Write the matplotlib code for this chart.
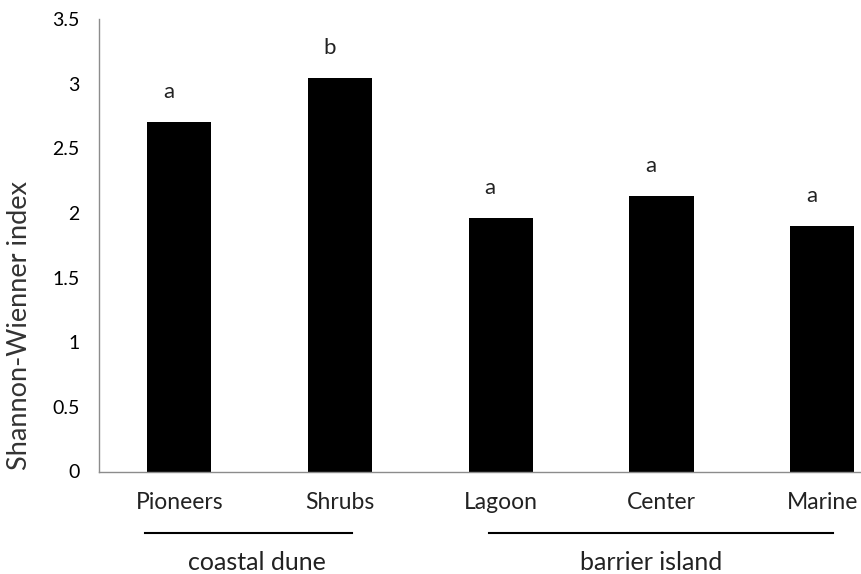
import numpy as np
import matplotlib.pyplot as plt
import matplotlib.transforms as mtransforms

plt.rcParams['font.family'] = ['Lato', 'DejaVu Sans']

sites = ['Pioneers', 'Shrubs', 'Lagoon', 'Center', 'Marine']
shannon = [2.70, 3.04, 1.96, 2.13, 1.90]
letters = ['a', 'b', 'a', 'a', 'a']
groups = ['coastal dune', 'barrier island']

fig = plt.figure(figsize=(8.61, 5.74), dpi=100)
# axes runs past the right edge like the original (cropped) chart
ax = fig.add_axes([99/861, 1 - 471.5/574, 803.5/861, 452.5/574])

x = np.arange(len(sites))
ax.bar(x, shannon, width=0.4, color='black')

for i, (v, l) in enumerate(zip(shannon, letters)):
    ax.annotate(l, (x[i] - 0.065, v), xytext=(0, 30), textcoords='offset pixels',
                ha='center', va='center', fontsize=16, color='#222222')

ax.set_xlim(-0.5, 4.5)
ax.set_ylim(0, 3.5)
ax.set_yticks(np.arange(0, 3.51, 0.5))
ax.set_yticklabels(['0', '0.5', '1', '1.5', '2', '2.5', '3', '3.5'])
ax.set_xticks(x)
ax.set_xticklabels(sites)
ax.tick_params(axis='y', length=0, pad=14, labelsize=14, labelcolor='black')
ax.tick_params(axis='x', length=0, pad=15, labelsize=16.5, labelcolor='#222222')
for s in ['top', 'right']:
    ax.spines[s].set_visible(False)
for s in ['left', 'bottom']:
    ax.spines[s].set_color('#8c8c8c')
    ax.spines[s].set_linewidth(1.0)

# group brackets under the tick labels
trans = mtransforms.blended_transform_factory(ax.transData, ax.transAxes)
spans = [(-0.214, 1.074), (1.927, 4.067)]
label_x = [0.483, 2.935]
for g, (a, b), lx in zip(groups, spans, label_x):
    ax.plot([a, b], [-0.136, -0.136], color='black', lw=1.5,
            transform=trans, clip_on=False)
    ax.text(lx, -0.2, g, transform=trans, ha='center', va='center',
            fontsize=18, color='#222222')

fig.text(20/861, 1 - 326/574, 'Shannon-Wienner index', rotation=90,
         ha='center', va='center', fontsize=19.5, color='#333333')

fig.savefig('out.png', dpi=100)
